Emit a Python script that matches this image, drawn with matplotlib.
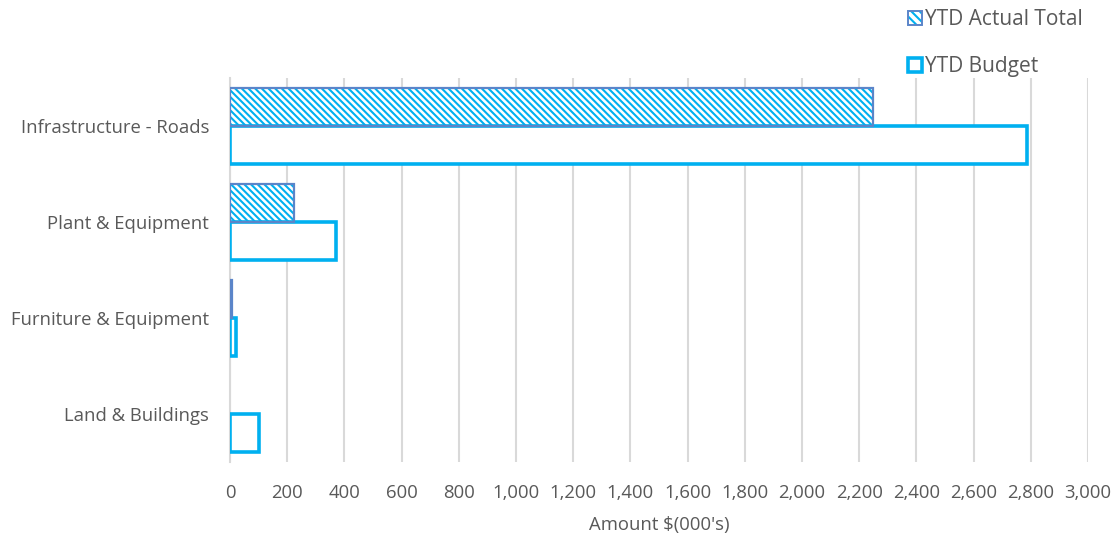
import numpy as np
import matplotlib.pyplot as plt
from matplotlib.patches import Patch
from matplotlib.ticker import FuncFormatter

categories = ["Infrastructure - Roads", "Plant & Equipment", "Furniture & Equipment", "Land & Buildings"]
ytd_actual = [2248, 224, 8, 0]
ytd_budget = [2787, 371, 21, 101]

plt.rcParams['font.family'] = ['Open Sans', 'DejaVu Sans']
plt.rcParams['hatch.linewidth'] = 1.5

fig = plt.figure(figsize=(11.2, 5.37), dpi=100)
ax = fig.add_axes([0.2054, 0.1397, 0.766, 0.715])

y = np.arange(len(categories))[::-1]
h = 0.395
# hatch layer (hatch takes the edge colour), then outline on top
ax.barh(y + h / 2, ytd_actual, height=h, color='white', edgecolor='#00B0F0',
        hatch='\\\\\\\\\\', linewidth=0, zorder=3)
ax.barh(y + h / 2, ytd_actual, height=h, fill=False, edgecolor='#5B85C9',
        linewidth=[1.6 if v > 0 else 0 for v in ytd_actual], zorder=4)
ax.barh(y - h / 2, ytd_budget, height=h, color='white', edgecolor='#00B0F0',
        linewidth=2.6, zorder=3)

ax.set_xlim(0, 3000)
ax.set_ylim(-0.5, 3.5)
ax.set_xticks(np.arange(0, 3001, 200))
ax.xaxis.set_major_formatter(FuncFormatter(lambda v, p: f"{int(v):,}"))
ax.set_yticks(y)
ax.set_yticklabels(categories)
ax.grid(axis='x', color='#D9D9D9', linewidth=1.5, zorder=0)
for s in ['top', 'right', 'bottom']:
    ax.spines[s].set_visible(False)
ax.spines['left'].set_color('#D9D9D9')
ax.spines['left'].set_linewidth(1.5)
ax.tick_params(axis='both', length=0, colors='#595959', labelsize=13.3)
ax.tick_params(axis='x', pad=16)
ax.tick_params(axis='y', pad=15)
ax.set_xlabel("Amount $(000's)", color='#595959', fontsize=13.3, labelpad=10)

handles = [(Patch(facecolor='white', edgecolor='#00B0F0', hatch='\\\\\\\\', linewidth=0),
            Patch(fill=False, edgecolor='#5B85C9', linewidth=1.4)),
           Patch(facecolor='white', edgecolor='#00B0F0', linewidth=2.6)]
fig.legend(handles, ['YTD Actual Total', 'YTD Budget'], loc='upper left',
           bbox_to_anchor=(0.794, 1.018), frameon=False,
           labelspacing=1.25, handlelength=0.65, handleheight=0.65, handletextpad=0.15,
           fontsize=15, labelcolor='#595959')

fig.savefig('out.png', dpi=100)
